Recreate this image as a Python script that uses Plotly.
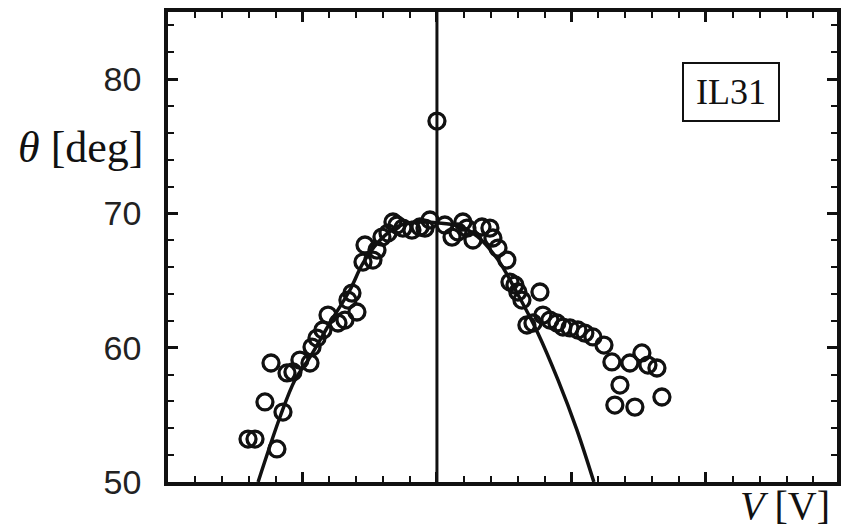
import plotly.graph_objects as go

# measured contact angle vs applied voltage (IL31)
v_data = [-1.405, -1.353, -1.190, -1.279, -1.145, -1.234, -1.115, -1.071, -1.019, -0.944,
          -0.929, -0.892, -0.848, -0.810, -0.736, -0.684, -0.595, -0.632, -0.662, -0.550,
          -0.535, -0.476, -0.446, -0.409, -0.364, -0.327, -0.297, -0.253, -0.186, -0.126,
          -0.052, -0.089,
          0.059, 0.112, 0.193, 0.156, 0.223, 0.268, 0.335, 0.394, 0.416, 0.454,
          0.520, 0.543, 0.580, 0.602, 0.632, 0.766, 0.669, 0.714, 0.788, 0.840,
          0.892, 0.937, 0.989, 1.048, 1.100, 1.160, 1.242, 1.301, 1.435, 1.524,
          1.569, 1.636, 1.361, 1.323, 1.472, 1.673,
          0.0]
theta_data = [53.20, 53.20, 52.46, 55.96, 55.21, 58.86, 58.12, 58.19, 59.08, 58.86,
              60.05, 60.72, 61.32, 62.43, 61.84, 62.06, 62.66, 64.07, 63.55, 66.38,
              67.65, 66.53, 67.27, 68.24, 68.54, 69.36, 69.14, 68.91, 68.76, 68.99,
              69.51, 68.91,
              69.14, 68.24, 69.36, 68.62, 68.91, 68.02, 68.99, 68.91, 68.17, 67.42,
              66.53, 64.89, 64.67, 64.15, 63.55, 64.15, 61.69, 61.84, 62.43, 62.06,
              61.84, 61.54, 61.47, 61.32, 61.09, 60.80, 60.20, 58.94, 58.86, 59.61,
              58.71, 58.49, 57.22, 55.73, 55.58, 56.33,
              76.88]

# fitted curve
v_fit = [-1.33, -1.167, -1.056, -0.944, -0.796, -0.647, -0.55, -0.424, -0.297, -0.149,
         0.0, 0.15, 0.3, 0.45, 0.6, 0.75, 0.9, 1.04, 1.167]
theta_fit = [50.0, 54.84, 57.6, 59.3, 61.84, 64.3, 66.3, 68.0, 69.0, 69.36,
             69.3, 69.1, 68.3, 66.6, 64.0, 61.1, 57.6, 53.9, 50.0]

y_ticks = [50, 60, 70, 80]
label = "IL31"

serif = "Liberation Serif"
sans = "Liberation Sans"

fig = go.Figure()
fig.add_trace(go.Scatter(x=v_fit, y=theta_fit, mode="lines", line_shape="spline",
                         line=dict(color="#111", width=3.5), hoverinfo="skip"))
fig.add_trace(go.Scatter(x=v_data, y=theta_data, mode="markers",
                         marker=dict(symbol="circle-open", size=16, color="#111",
                                     line=dict(width=3.3, color="#111"))))
fig.add_vline(x=0, line=dict(color="#111", width=3))

axis_common = dict(showgrid=False, zeroline=False, showline=True, linecolor="#111",
                   linewidth=3.5, mirror="ticks", ticks="inside", tickcolor="#111",
                   ticklen=10, tickwidth=2.5, automargin=False)

fig.update_xaxes(range=[-2, 2.975], tick0=0, dtick=1, showticklabels=False,
                 minor=dict(dtick=0.2, ticks="inside", ticklen=6, tickwidth=2, tickcolor="#111"),
                 **axis_common)
fig.update_yaxes(range=[50, 85], tickvals=y_ticks, ticklabelstandoff=16,
                 tickfont=dict(family=sans, size=34, color="#222"),
                 minor=dict(dtick=2, ticks="inside", ticklen=6, tickwidth=2, tickcolor="#111"),
                 **axis_common)

fig.add_annotation(text="<i>θ</i> [deg]", xref="paper", yref="paper", x=-0.034, y=0.711,
                   xanchor="right", yanchor="middle", showarrow=False,
                   font=dict(family=serif, size=44, color="#111"))
fig.add_annotation(text="<i>V</i> [V]", xref="paper", yref="paper", x=0.9925, y=-0.102,
                   xanchor="right", yanchor="bottom", showarrow=False,
                   font=dict(family=serif, size=40, color="#111"))
fig.add_annotation(text=label, xref="paper", yref="paper", x=0.8415, y=0.8298,
                   xanchor="center", yanchor="middle", showarrow=False,
                   width=90, height=52, borderpad=2, bordercolor="#111", borderwidth=2,
                   bgcolor="white", font=dict(family=serif, size=36, color="#111"))

fig.update_layout(width=841, height=531, showlegend=False,
                  margin=dict(l=168, r=4, t=12, b=49, autoexpand=False),
                  plot_bgcolor="white", paper_bgcolor="white")

# page body has a default 8px margin; drop it so the figure sits at the window corner
fig.write_html("out.html", config={"displayModeBar": False},
               post_script="document.body.style.margin='0';")
